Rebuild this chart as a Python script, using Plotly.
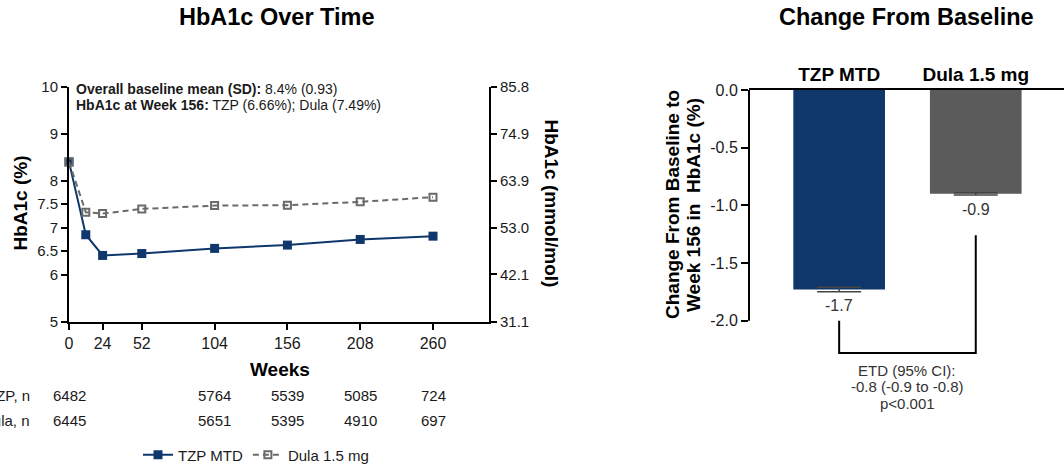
import plotly.graph_objects as go

# ---------------- data ----------------
weeks = [0, 12, 24, 52, 104, 156, 208, 260]
tzp_hba1c = [8.40, 6.85, 6.41, 6.45, 6.56, 6.63, 6.75, 6.82]
dula_hba1c = [8.40, 7.33, 7.30, 7.40, 7.47, 7.48, 7.55, 7.65]

week_ticks = [0, 24, 52, 104, 156, 208, 260]
pct_ticks = [5, 6, 6.5, 7, 7.5, 8, 9, 10]
pct_labels = ["5", "6", "6.5", "7", "7.5", "8", "9", "10"]
mmol_ticks = [31.1, 42.1, 53.0, 63.9, 74.9, 85.8]
mmol_labels = ["31.1", "42.1", "53.0", "63.9", "74.9", "85.8"]

n_weeks = [0, 104, 156, 208, 260]
tzp_n = [6482, 5764, 5539, 5085, 724]
dula_n = [6445, 5651, 5395, 4910, 697]

bar_groups = ["TZP MTD", "Dula 1.5 mg"]
bar_change = [-1.73, -0.90]
bar_err = [0.02, 0.01]
bar_labels = ["-1.7", "-0.9"]
change_ticks = [-2.0, -1.5, -1.0, -0.5, 0.0]
change_labels = ["-2.0", "-1.5", "-1.0", "-0.5", "0.0"]

# ---------------- style ----------------
W, H = 1064, 468
FONT = "Liberation Sans, Arial, Helvetica, sans-serif"
NAVY = "#0f376b"
DGRAY = "#5b5b5b"
LGRAY = "#6a6a6a"
TXT = "#1a1a1a"


def px(xp):
    return xp / W


def py(yp):
    return 1 - yp / H


fig = go.Figure()

# ---------------- left panel: lines ----------------
fig.add_trace(go.Scatter(
    x=weeks, y=tzp_hba1c, name="TZP MTD", mode="lines+markers",
    line=dict(color=NAVY, width=2),
    marker=dict(symbol="square", size=9, color=NAVY),
    xaxis="x", yaxis="y", cliponaxis=False,
))
fig.add_trace(go.Scatter(
    x=weeks, y=dula_hba1c, name="Dula 1.5 mg", mode="lines+markers",
    line=dict(color=LGRAY, width=2, dash="6px,4px"),
    marker=dict(symbol="square-open", size=7, color=LGRAY, line=dict(width=2, color=LGRAY)),
    xaxis="x", yaxis="y", cliponaxis=False,
))
# empty trace so the secondary (mmol/mol) axis is drawn
fig.add_trace(go.Scatter(x=[None], y=[None], xaxis="x", yaxis="y2", showlegend=False,
                         hoverinfo="skip"))

# ---------------- right panel: bars ----------------
bar_x = list(range(len(bar_groups)))
fig.add_trace(go.Bar(
    x=bar_x, y=bar_change, width=0.671,
    marker=dict(color=[NAVY, DGRAY], line=dict(width=0)),
    error_y=dict(type="data", array=bar_err, color="#444444", thickness=1.5, width=22),
    xaxis="x3", yaxis="y3", showlegend=False,
))

axis_common = dict(
    showgrid=False, zeroline=False, showline=True, linecolor="black", linewidth=2,
    ticks="outside", tickcolor="black", tickwidth=2, automargin=False,
)

fig.update_layout(
    width=W, height=H,
    margin=dict(l=0, r=0, t=0, b=0, autoexpand=False),
    paper_bgcolor="white", plot_bgcolor="white",
    font=dict(family=FONT, color=TXT, size=15),
    showlegend=True,
    legend=dict(
        orientation="h", x=px(256), xanchor="center", y=py(455), yanchor="middle",
        font=dict(size=15, color=TXT), itemwidth=30, tracegroupgap=0,
        bgcolor="rgba(0,0,0,0)",
    ),
    xaxis=dict(
        domain=[px(69), px(489)], range=[0, 300], anchor="y",
        tickvals=week_ticks, ticklen=6, tickfont=dict(size=16), **axis_common,
    ),
    yaxis=dict(
        domain=[py(321.7), py(86.7)], range=[5, 10], anchor="x",
        tickvals=pct_ticks, ticktext=pct_labels, ticklen=6, tickfont=dict(size=15),
        **axis_common,
    ),
    yaxis2=dict(
        overlaying="y", side="right", anchor="x", range=[31.1, 85.8],
        tickvals=mmol_ticks, ticktext=mmol_labels, ticklen=6, tickfont=dict(size=15),
        **axis_common,
    ),
    xaxis3=dict(
        domain=[px(749), 1.0], range=[-0.660, 1.646], anchor="y3", side="top",
        tickvals=bar_x, ticktext=bar_groups, showgrid=False, zeroline=False,
        showline=True, linecolor="black", linewidth=1.5, ticks="", ticklen=0,
        automargin=False,
        tickfont=dict(size=19, color="black", family=FONT, weight="bold"),
    ),
    yaxis3=dict(
        domain=[py(361), py(90)], range=[-2.35, 0], anchor="x3",
        tickvals=change_ticks, ticktext=change_labels, showgrid=False, zeroline=False,
        showline=False, ticks="outside", ticklen=7, tickwidth=2, tickcolor="black",
        automargin=False, tickfont=dict(size=16),
    ),
)

# y3 axis line (stops at -2.0)
fig.add_shape(type="line", xref="x3 domain", yref="y3",
              x0=0, x1=0, y0=change_ticks[-1], y1=change_ticks[0],
              line=dict(color="black", width=2))

# bracket between the two bars
bracket_bottom = -2.28
fig.add_shape(type="path", xref="x3", yref="y3",
              path=f"M {bar_x[0]} -2.0 L {bar_x[0]} {bracket_bottom} L {bar_x[1]} {bracket_bottom} L {bar_x[1]} -1.26",
              line=dict(color="black", width=2), layer="above")

ann = []
# titles
ann.append(dict(text="<b>HbA1c Over Time</b>", x=px(276), y=py(17), xref="paper", yref="paper",
                xanchor="center", yanchor="middle", showarrow=False, font=dict(size=23.5, color="black")))
ann.append(dict(text="<b>Change From Baseline</b>", x=px(906), y=py(17), xref="paper", yref="paper",
                xanchor="center", yanchor="middle", showarrow=False, font=dict(size=23.5, color="black")))
# info text
ann.append(dict(text="<b>Overall baseline mean (SD):</b> 8.4% (0.93)", x=px(74), y=py(89),
                xref="paper", yref="paper", xanchor="left", yanchor="middle", showarrow=False,
                font=dict(size=14)))
ann.append(dict(text="<b>HbA1c at Week 156:</b> TZP (6.66%); Dula (7.49%)", x=px(74), y=py(105),
                xref="paper", yref="paper", xanchor="left", yanchor="middle", showarrow=False,
                font=dict(size=14)))
# axis titles
ann.append(dict(text="<b>HbA1c (%)</b>", x=px(20), y=py(203.5), xref="paper", yref="paper",
                xanchor="center", yanchor="middle", textangle=-90, showarrow=False,
                font=dict(size=19, color="black")))
ann.append(dict(text="<b>HbA1c (mmol/mol)</b>", x=px(551), y=py(203.5), xref="paper", yref="paper",
                xanchor="center", yanchor="middle", textangle=90, showarrow=False,
                font=dict(size=19, color="black")))
ann.append(dict(text="<b>Weeks</b>", x=px(280), y=py(369), xref="paper", yref="paper",
                xanchor="center", yanchor="middle", showarrow=False,
                font=dict(size=19, color="black")))
for line, xl in [("<b>Change From Baseline to</b>", 672), ("<b>Week 156 in  HbA1c (%)</b>", 693)]:
    ann.append(dict(text=line, x=px(xl), y=py(205), xref="paper", yref="paper",
                    xanchor="center", yanchor="middle", textangle=-90,
                    showarrow=False, font=dict(size=19, color="black")))
# n table
for label, vals, yrow in [("TZP, n", tzp_n, 395), ("Dula, n", dula_n, 420)]:
    ann.append(dict(text=label, x=px(32), y=py(yrow), xref="paper", yref="paper",
                    xanchor="right", yanchor="middle", showarrow=False, font=dict(size=15)))
    for wk, v in zip(n_weeks, vals):
        ann.append(dict(text=str(v), x=wk, y=py(yrow), xref="x", yref="paper",
                        xanchor="center", yanchor="middle", showarrow=False, font=dict(size=15)))
# bar value labels
for xi, v, lab in zip(bar_x, bar_change, bar_labels):
    ann.append(dict(text=lab, x=xi, y=v, xref="x3", yref="y3", xanchor="center", yanchor="top",
                    yshift=-5, showarrow=False, font=dict(size=16, color="#333333")))
# ETD text
for line, yl in [("ETD (95% CI):", 370), ("-0.8 (-0.9 to -0.8)", 386.7), ("p<0.001", 403.3)]:
    ann.append(dict(text=line, x=0.5, y=py(yl), xref="x3", yref="paper", xanchor="center",
                    yanchor="middle", showarrow=False, font=dict(size=15, color="#333333")))

fig.update_layout(annotations=ann)

fig.write_html(
    "out.html",
    config={"displayModeBar": False},
    post_script="document.body.style.margin='0';document.body.style.padding='0';"
                "document.body.style.overflow='hidden';",
)
